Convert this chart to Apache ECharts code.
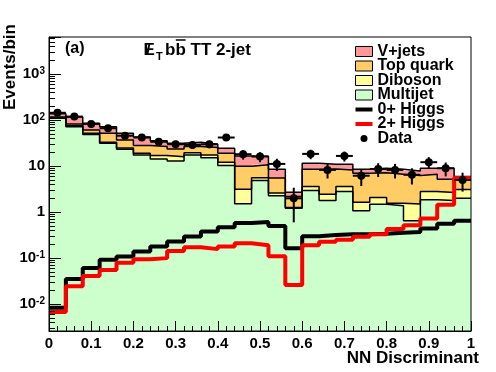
<!DOCTYPE html>
<html>
<head>
<meta charset="utf-8">
<script src="https://cdn.jsdelivr.net/npm/echarts@6/dist/echarts.min.js"></script>
<style>
html, body { margin: 0; padding: 0; background: #fff; }
#chart { width: 496px; height: 372px; }
</style>
</head>
<body>
<div id="chart"></div>
<script>
// left edges of the 25 NN bins
const nnBins = [0.00, 0.04, 0.08, 0.12, 0.16, 0.20, 0.24, 0.28, 0.32, 0.36,
                0.40, 0.44, 0.48, 0.52, 0.56, 0.60, 0.64, 0.68, 0.72, 0.76,
                0.80, 0.84, 0.88, 0.92, 0.96]

const multijet = [110, 72, 49, 31.5, 23.4, 17.6, 14.4, 13, 17.5, 15.3,
                  10.3, 1.52, 4.9, 2.26, 1.22, 2.95, 1.8, 2.8, 1.07, 1.49,
                  1.37, 0.65, 1.85, 1.79, 2.0]
const diboson = [2, 4, 3, 1.5, 1.6, 1.4, 2.6, 3, 2, 2.3,
                 1.9, 1.64, 0.7, 0.34, 0.04, 0.65, 0.66, 0.8, 0.58, 0.58,
                 0.19, 0.85, 0.95, 0.88, 1.1]
const topQuark = [6, 7, 9, 19, 12, 9, 9.8, 7.7, 7.3, 7.8,
                  7, 6.84, 5.2, 2.9, 0.92, 5.0, 6.24, 4.7, 5.35, 5.13,
                  5.14, 4.75, 3.9, 2.53, 2.1]
const vjets = [20, 34, 25, 20, 15, 15, 8.8, 7.9, 6.2, 4.6,
               5.4, 6.7, 5.6, 3.1, 0.54, 3.0, 2.3, 2.7, 1.6, 1.8,
               1.9, 1.65, 2.3, 3.8, 0.75]

const higgs0 = [0.0083, 0.035, 0.061, 0.092, 0.108, 0.139, 0.179, 0.23, 0.295, 0.38,
                0.47, 0.58, 0.61, 0.50, 0.165, 0.30, 0.32, 0.33, 0.33, 0.34,
                0.355, 0.37, 0.44, 0.56, 0.65]
const higgs2 = [0.0067, 0.0246, 0.041, 0.055, 0.079, 0.095, 0.10, 0.142, 0.173, 0.157,
                0.18, 0.21, 0.19, 0.11, 0.026, 0.19, 0.226, 0.25, 0.29, 0.33,
                0.43, 0.52, 0.73, 1.44, 5.5]

const dataVals = [145, 120, 83, 67, 46, 42, 34, 30, 29, 30,
                  42, 18.2, 16.2, 11.2, 2.0, 18.5, 8.3, 16.7, 6.2, 8.7,
                  8.3, 6.5, 12.2, 9.0, 5.0]
const dataErr = [12, 11, 9.1, 8.2, 6.8, 6.5, 5.8, 5.5, 5.4, 5.5,
                 6.5, 4.3, 4.0, 3.3, 1.4, 4.3, 2.9, 4.1, 2.5, 2.9,
                 2.9, 2.5, 3.5, 3.0, 2.2]

const font = "'Liberation Sans', Arial, sans-serif"
const binWidth = nnBins[1] - nnBins[0]
const xMax = 1
const yMin = 0.0026
const yMax = 6450

// cumulative stack tops (bottom to top: Multijet, Diboson, Top quark, V+jets)
const floor = multijet.map(() => yMin)
const cumM = multijet.slice()
const cumD = cumM.map((v, i) => v + diboson[i])
const cumT = cumD.map((v, i) => v + topQuark[i])
const cumV = cumT.map((v, i) => v + vjets[i])

// histogram as step line: one point per bin left edge + closing point
function stepData(vals) {
    const pts = nnBins.map((x, i) => [x, vals[i]])
    pts.push([xMax, vals[vals.length - 1]])
    return pts
}

function fillSeries(name, base, top, color) {
    return {
        name: name,
        type: 'custom',
        color: color,
        z: 1,
        encode: { x: [0, 1], y: [2, 3] },
        data: nnBins.map((x, i) => [x, x + binWidth, base[i], top[i]]),
        renderItem: function (params, api) {
            const p0 = api.coord([api.value(0), api.value(3)])
            const p1 = api.coord([api.value(1), api.value(2)])
            // snap to whole pixels so neighbouring bins leave no seam
            const x0 = Math.round(p0[0]), x1 = Math.round(p1[0])
            return {
                type: 'rect',
                shape: { x: x0, y: p0[1], width: x1 - x0, height: p1[1] - p0[1] },
                style: { fill: color, stroke: null }
            }
        }
    }
}

function outlineSeries(name, top) {
    return {
        name: name,
        type: 'line',
        step: 'end',
        symbol: 'none',
        data: stepData(top),
        lineStyle: { color: '#000', width: 1.5 },
        z: 2
    }
}

const chart = echarts.init(document.getElementById('chart'))

const option = {
    animation: false,
    textStyle: { fontFamily: font },
    grid: {
        left: 49, right: 25, top: 37, bottom: 41,
        show: true, borderColor: '#000', borderWidth: 1, z: 10
    },
    xAxis: {
        type: 'value', min: 0, max: xMax, interval: 0.1, z: 10,
        axisLine: { show: true, lineStyle: { color: '#000', width: 1 } },
        axisTick: { show: true, inside: true, length: 10, lineStyle: { color: '#000', width: 1 } },
        minorTick: { show: true, splitNumber: 5, length: 5, lineStyle: { color: '#000', width: 1 } },
        splitLine: { show: false },
        axisLabel: { color: '#000', fontSize: 15, fontWeight: 'bold', fontFamily: font, margin: 5 }
    },
    yAxis: {
        type: 'log', logBase: 10, min: yMin, max: yMax, z: 10,
        axisLine: { show: true, lineStyle: { color: '#000', width: 1 } },
        axisTick: { show: true, inside: true, length: 12, lineStyle: { color: '#000', width: 1 } },
        minorTick: { show: true, splitNumber: 9, length: 6, lineStyle: { color: '#000', width: 1 } },
        splitLine: { show: false },
        axisLabel: {
            margin: 4,
            showMinLabel: false, showMaxLabel: false,
            formatter: function (v) {
                const lg = Math.log10(v)
                const e = Math.round(lg)
                if (Math.abs(lg - e) > 1e-6) return ''
                if (e === 0) return '1'
                if (e === 1) return '10'
                return '{b|10}{s|' + e + '}'
            },
            color: '#000', fontSize: 15, fontWeight: 'bold', fontFamily: font,
            rich: {
                b: { fontSize: 15, fontWeight: 'bold', fontFamily: font, color: '#000' },
                s: { fontSize: 10, fontWeight: 'bold', fontFamily: font, color: '#000', verticalAlign: 'top' }
            }
        }
    },
    legend: {
        orient: 'vertical', left: 350, top: 38.5,
        itemWidth: 17, itemHeight: 10, itemGap: -1.5,
        textStyle: { fontSize: 16, fontWeight: 'bold', fontFamily: font, color: '#000', lineHeight: 15.2 },
        data: [
            { name: 'V+jets', icon: 'rect', itemStyle: { color: '#ff9999', borderColor: '#000', borderWidth: 1 } },
            { name: 'Top quark', icon: 'rect', itemStyle: { color: '#ffcc66', borderColor: '#000', borderWidth: 1 } },
            { name: 'Diboson', icon: 'rect', itemStyle: { color: '#ffff99', borderColor: '#000', borderWidth: 1 } },
            { name: 'Multijet', icon: 'rect', itemStyle: { color: '#ccffcc', borderColor: '#000', borderWidth: 1 } },
            { name: '0+ Higgs', icon: 'path://M0,0 L0,0 M0,3 L17,3 L17,7 L0,7 Z M17,10 L17,10', itemStyle: { color: '#000', borderWidth: 0 } },
            { name: '2+ Higgs', icon: 'path://M0,0 L0,0 M0,3 L17,3 L17,7 L0,7 Z M17,10 L17,10', itemStyle: { color: '#ff0000', borderWidth: 0 } },
            { name: 'Data', icon: 'path://M0,0 L0,0 M12,5 A3.5,3.5 0 1,1 5,5 A3.5,3.5 0 1,1 12,5 Z M17,10 L17,10', itemStyle: { color: '#000', borderWidth: 0 } }
        ]
    },
    series: [
        fillSeries('Multijet', floor, cumM, '#ccffcc'),
        fillSeries('Diboson', cumM, cumD, '#ffff99'),
        fillSeries('Top quark', cumD, cumT, '#ffcc66'),
        fillSeries('V+jets', cumT, cumV, '#ff9999'),
        outlineSeries('Multijet top', cumM),
        outlineSeries('Diboson top', cumD),
        outlineSeries('Top quark top', cumT),
        outlineSeries('V+jets top', cumV),
        {
            name: '0+ Higgs', type: 'line', step: 'end', symbol: 'none', color: '#000',
            data: stepData(higgs0), lineStyle: { color: '#000', width: 4 }, z: 3
        },
        {
            name: '2+ Higgs', type: 'line', step: 'end', symbol: 'none', color: '#ff0000',
            data: stepData(higgs2), lineStyle: { color: '#ff0000', width: 4 }, z: 4
        },
        {
            name: 'Data', type: 'custom', color: '#000', z: 5,
            encode: { x: [0, 1], y: 2 },
            data: nnBins.map((x, i) => [x, x + binWidth, dataVals[i], dataErr[i]]),
            renderItem: function (params, api) {
                const lo = api.value(0), hi = api.value(1)
                const v = api.value(2), e = api.value(3)
                const mid = (lo + hi) / 2
                const c = api.coord([mid, v])
                const l = api.coord([lo, v])
                const r = api.coord([hi, v])
                const t = api.coord([mid, v + e])
                const b = api.coord([mid, Math.max(v - e, yMin)])
                return {
                    type: 'group',
                    children: [
                        { type: 'line', shape: { x1: l[0], y1: c[1], x2: r[0], y2: c[1] }, style: { stroke: '#000', lineWidth: 2 } },
                        { type: 'line', shape: { x1: c[0], y1: t[1], x2: c[0], y2: b[1] }, style: { stroke: '#000', lineWidth: 2 } },
                        { type: 'circle', shape: { cx: c[0], cy: c[1], r: 4 }, style: { fill: '#000' } }
                    ]
                }
            }
        }
    ],
    graphic: [
        { type: 'text', x: 65, y: 49, style: { text: '(a)', font: 'bold 16px ' + font, fill: '#000', verticalAlign: 'middle' } },
        { type: 'text', x: 143.5, y: 50, style: { text: 'E', font: 'bold 17px ' + font, fill: '#000', verticalAlign: 'middle' } },
        { type: 'text', x: 146, y: 50, style: { text: '/', font: 'bold 17px ' + font, fill: '#000', verticalAlign: 'middle' } },
        { type: 'text', x: 156, y: 56.5, style: { text: 'T', font: 'bold 11px ' + font, fill: '#000', verticalAlign: 'middle' } },
        { type: 'text', x: 165, y: 50, style: { text: 'bb TT 2-jet', font: 'bold 17px ' + font, fill: '#000', verticalAlign: 'middle' } },
        { type: 'line', shape: { x1: 175.8, y1: 40, x2: 185.6, y2: 40 }, style: { stroke: '#000', lineWidth: 1.5 } },
        { type: 'text', x: 10, y: 67, rotation: Math.PI / 2, style: { text: 'Events/bin', font: 'bold 17px ' + font, fill: '#000', align: 'center', verticalAlign: 'middle' } },
        { type: 'text', x: 479, y: 358, style: { text: 'NN Discriminant', font: 'bold 17px ' + font, fill: '#000', align: 'right', verticalAlign: 'middle' } }
    ]
}

chart.setOption(option)
</script>
</body>
</html>
